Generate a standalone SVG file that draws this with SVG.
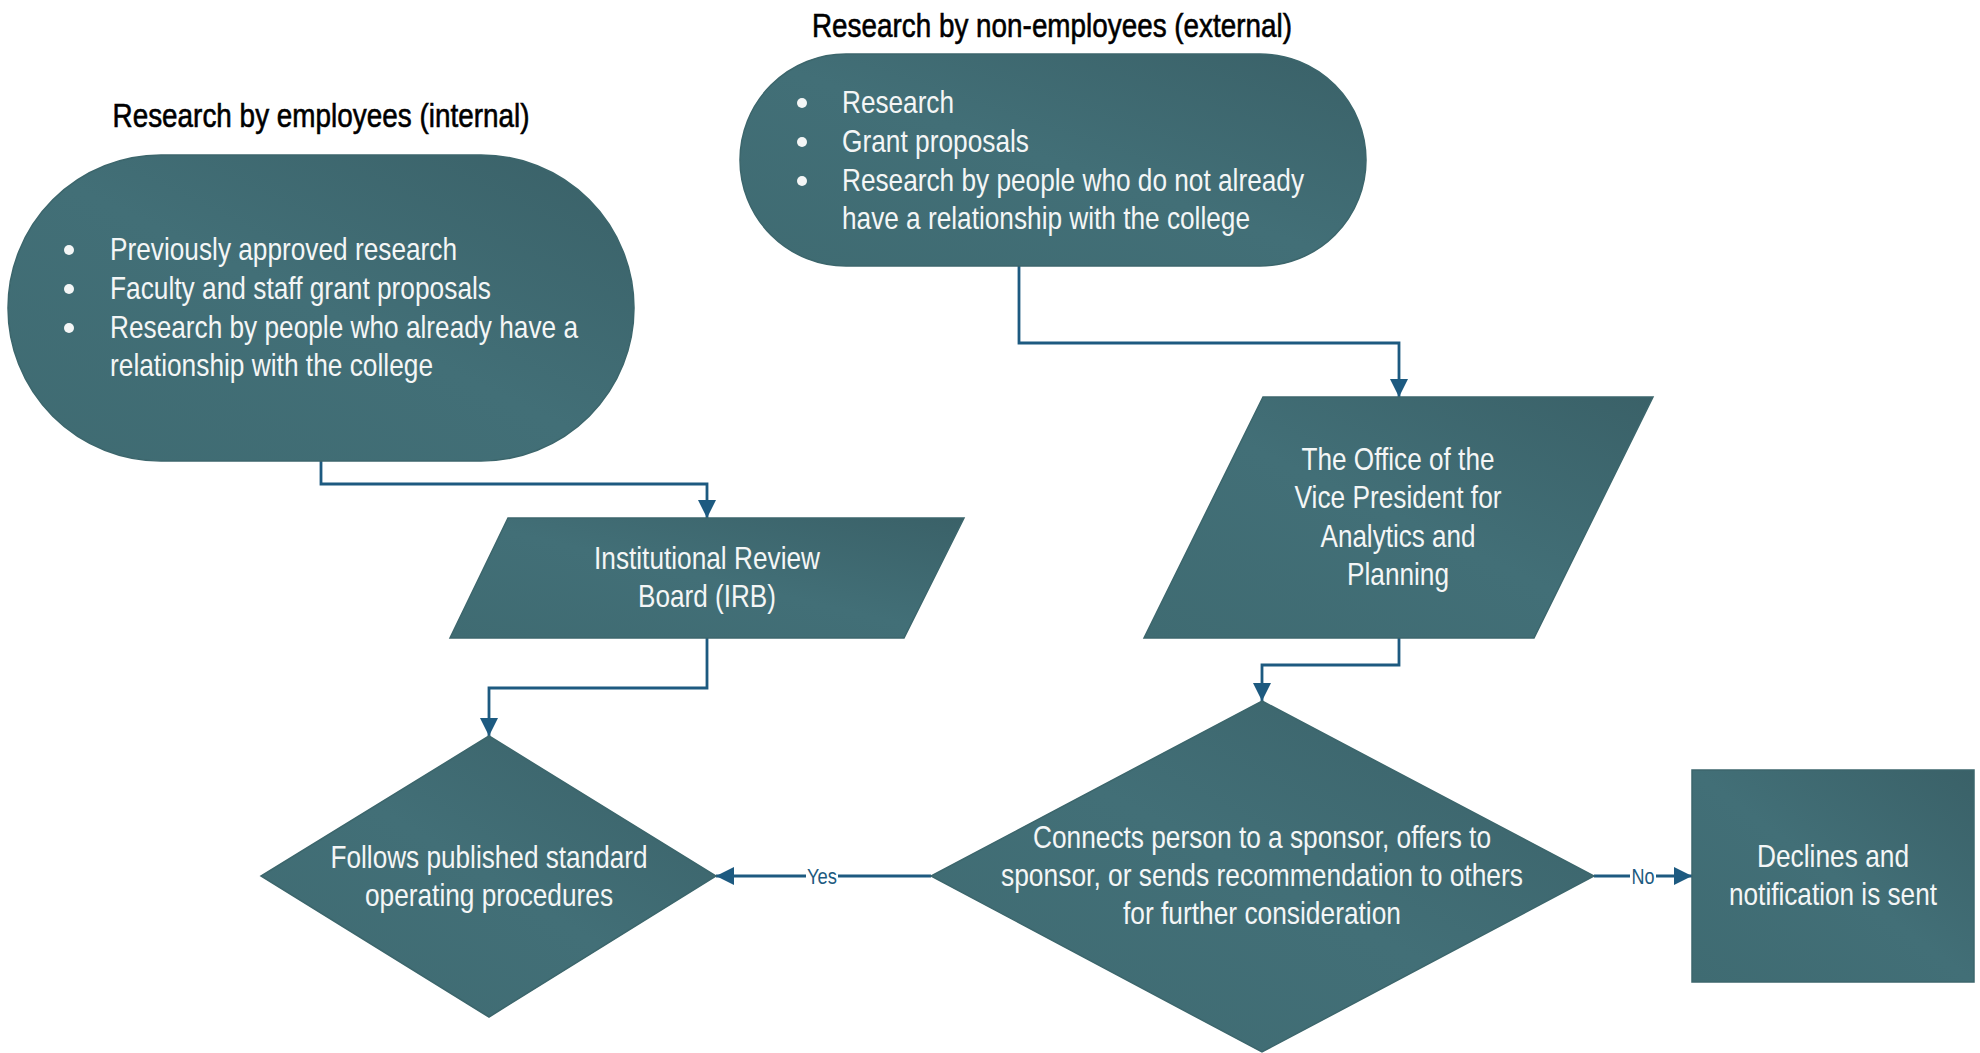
<svg xmlns="http://www.w3.org/2000/svg" width="1980" height="1053" viewBox="0 0 1980 1053">
<defs>
<linearGradient id="g" x1="0" y1="1" x2="1" y2="0">
<stop offset="0" stop-color="#3f6b72"/>
<stop offset="0.5" stop-color="#426f77"/>
<stop offset="1" stop-color="#3a6168"/>
</linearGradient>
<marker id="arr" viewBox="0 0 10 10" refX="10" refY="5" markerWidth="6.5" markerHeight="7" markerUnits="strokeWidth" orient="auto">
<path d="M0,0 L10,5 L0,10 z" fill="#1d5a80"/>
</marker>
<style>
.shape{fill:url(#g);stroke:#3c666c;stroke-width:1.5}
.t{font-family:"Liberation Sans Narrow","Arial Narrow","Liberation Sans",sans-serif;font-size:32px;fill:#f4f6f6;dominant-baseline:central}
.c{text-anchor:middle}
.title{font-family:"Liberation Sans Narrow","Arial Narrow","Liberation Sans",sans-serif;font-size:33px;fill:#000;stroke:#000;stroke-width:0.6;text-anchor:middle;dominant-baseline:central}
.conn{fill:none;stroke:#1d5a80;stroke-width:2.8;marker-end:url(#arr)}
.lbl{font-family:"Liberation Sans Narrow","Arial Narrow","Liberation Sans",sans-serif;font-size:22px;fill:#1d5a80;text-anchor:middle;dominant-baseline:central}
</style>
</defs>
<rect width="1980" height="1053" fill="#ffffff"/>

<g id="title-internal"><text class="title" x="321" y="115" textLength="417" lengthAdjust="spacingAndGlyphs">Research by employees (internal)</text></g>
<g id="title-external"><text class="title" x="1052" y="25" textLength="480" lengthAdjust="spacingAndGlyphs">Research by non-employees (external)</text></g>

<g id="connectors">
<path class="conn" d="M321,461 V484 H707 V518"/>
<path class="conn" d="M1019,266 V343 H1399 V397"/>
<path class="conn" d="M707,638 V688 H489 V736"/>
<path class="conn" d="M1399,638 V665 H1262 V701"/>
<path class="conn" d="M931,876 H716"/>
<path class="conn" d="M1594,876 H1692"/>
<rect x="806" y="864" width="32" height="24" fill="#fff"/>
<text class="lbl" x="822" y="876" textLength="30" lengthAdjust="spacingAndGlyphs">Yes</text>
<rect x="1630" y="864" width="26" height="24" fill="#fff"/>
<text class="lbl" x="1643" y="876" textLength="23" lengthAdjust="spacingAndGlyphs">No</text>
</g>

<g id="internal">
<rect class="shape" x="8" y="155" width="626" height="306" rx="153" ry="153"/>
<circle cx="69" cy="250" r="5" fill="#f4f6f6"/>
<circle cx="69" cy="289" r="5" fill="#f4f6f6"/>
<circle cx="69" cy="328" r="5" fill="#f4f6f6"/>
<text class="t" x="110" y="249" textLength="347" lengthAdjust="spacingAndGlyphs">Previously approved research</text>
<text class="t" x="110" y="288" textLength="381" lengthAdjust="spacingAndGlyphs">Faculty and staff grant proposals</text>
<text class="t" x="110" y="327" textLength="468" lengthAdjust="spacingAndGlyphs">Research by people who already have a</text>
<text class="t" x="110" y="365" textLength="323" lengthAdjust="spacingAndGlyphs">relationship with the college</text>
</g>

<g id="external">
<rect class="shape" x="740" y="54" width="626" height="212" rx="106" ry="106"/>
<circle cx="802" cy="103" r="5" fill="#f4f6f6"/>
<circle cx="802" cy="142" r="5" fill="#f4f6f6"/>
<circle cx="802" cy="181" r="5" fill="#f4f6f6"/>
<text class="t" x="842" y="102" textLength="112" lengthAdjust="spacingAndGlyphs">Research</text>
<text class="t" x="842" y="141" textLength="187" lengthAdjust="spacingAndGlyphs">Grant proposals</text>
<text class="t" x="842" y="180" textLength="462" lengthAdjust="spacingAndGlyphs">Research by people who do not already</text>
<text class="t" x="842" y="218" textLength="408" lengthAdjust="spacingAndGlyphs">have a relationship with the college</text>
</g>

<g id="irb">
<polygon class="shape" points="508,518 964,518 904,638 450,638"/>
<text class="t c" x="707" y="558" textLength="226" lengthAdjust="spacingAndGlyphs">Institutional Review</text>
<text class="t c" x="707" y="596" textLength="138" lengthAdjust="spacingAndGlyphs">Board (IRB)</text>
</g>

<g id="ovp">
<polygon class="shape" points="1263,397 1653,397 1534,638 1144,638"/>
<text class="t c" x="1398" y="459" textLength="193" lengthAdjust="spacingAndGlyphs">The Office of the</text>
<text class="t c" x="1398" y="497" textLength="207" lengthAdjust="spacingAndGlyphs">Vice President for</text>
<text class="t c" x="1398" y="536" textLength="155" lengthAdjust="spacingAndGlyphs">Analytics and</text>
<text class="t c" x="1398" y="574" textLength="102" lengthAdjust="spacingAndGlyphs">Planning</text>
</g>

<g id="sop">
<polygon class="shape" points="489,736 716,876 489,1017 261,876"/>
<text class="t c" x="489" y="857" textLength="317" lengthAdjust="spacingAndGlyphs">Follows published standard</text>
<text class="t c" x="489" y="895" textLength="248" lengthAdjust="spacingAndGlyphs">operating procedures</text>
</g>

<g id="decision">
<polygon class="shape" points="1262,701 1594,876 1262,1052 931,876"/>
<text class="t c" x="1262" y="837" textLength="458" lengthAdjust="spacingAndGlyphs">Connects person to a sponsor, offers to</text>
<text class="t c" x="1262" y="875" textLength="522" lengthAdjust="spacingAndGlyphs">sponsor, or sends recommendation to others</text>
<text class="t c" x="1262" y="913" textLength="278" lengthAdjust="spacingAndGlyphs">for further consideration</text>
</g>

<g id="declines">
<rect class="shape" x="1692" y="770" width="282" height="212"/>
<text class="t c" x="1833" y="856" textLength="152" lengthAdjust="spacingAndGlyphs">Declines and</text>
<text class="t c" x="1833" y="894" textLength="208" lengthAdjust="spacingAndGlyphs">notification is sent</text>
</g>
</svg>
